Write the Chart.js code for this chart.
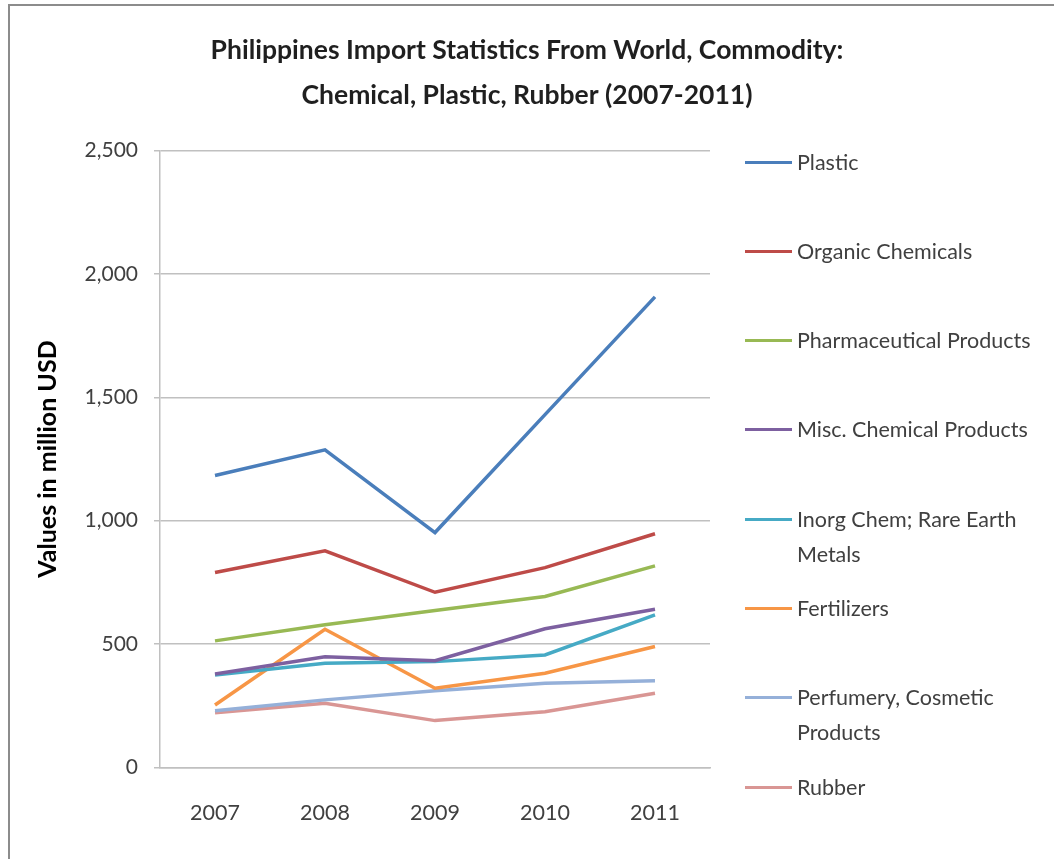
<!DOCTYPE html>
<html lang="en">
<head>
    <meta charset="UTF-8">
    <title>Philippines Import Statistics</title>
    <script src="https://cdn.jsdelivr.net/npm/chart.js"></script>
    <style>
        body {
            margin: 0;
            background: #fff;
            font-family: Lato, "Open Sans", sans-serif;
        }

        .frame {
            position: absolute;
            left: 8px;
            top: 4px;
            width: 1100px;
            height: 900px;
            border-left: 2px solid #8c8c8c;
            border-top: 2px solid #8c8c8c;
        }

        #chart {
            position: absolute;
            left: 0;
            top: 0;
        }

        .legend-item {
            position: absolute;
            left: 745px;
            display: flex;
            align-items: flex-start;
            font-size: 21.5px;
            line-height: 35px;
            color: #404040;
        }

        .legend-item .swatch {
            width: 47px;
            height: 3px;
            margin-top: 16px;
            margin-right: 5px;
            flex: none;
        }

        .legend-item .label {
            width: 250px;
        }
    </style>
</head>
<body>
    <div class="frame"></div>
    <canvas id="chart" width="1054" height="859"></canvas>
    <div id="legend"></div>
    <script>
        // data (million USD)
        const years = ['2007', '2008', '2009', '2010', '2011'];
        const seriesNames = ['Plastic', 'Organic Chemicals', 'Pharmaceutical Products', 'Misc. Chemical Products',
            'Inorg Chem; Rare Earth Metals', 'Fertilizers', 'Perfumery, Cosmetic Products', 'Rubber'];
        const plastic = [1183, 1287, 952, 1430, 1907];
        const organicChemicals = [790, 878, 710, 810, 947];
        const pharmaceutical = [513, 578, 636, 693, 817];
        const miscChemical = [379, 449, 433, 562, 641];
        const inorgChem = [375, 422, 429, 456, 618];
        const fertilizers = [253, 560, 321, 382, 490];
        const perfumery = [230, 274, 311, 341, 352];
        const rubber = [222, 260, 190, 226, 301];
        const yTicks = [0, 500, 1000, 1500, 2000, 2500];

        const seriesValues = [plastic, organicChemicals, pharmaceutical, miscChemical, inorgChem, fertilizers, perfumery, rubber];
        const colors = ['#4a7ebb', '#be4b48', '#98b954', '#7d60a0', '#46aac5', '#f79646', '#95b0d9', '#d99694'];

        const datasets = seriesNames.map((name, i) => ({
            label: name,
            data: seriesValues[i],
            borderColor: colors[i],
            backgroundColor: colors[i],
            borderWidth: 3.5,
            pointRadius: 0,
            tension: 0
        }));

        const ctx = document.getElementById('chart').getContext('2d');
        new Chart(ctx, {
            type: 'line',
            data: { labels: years, datasets: datasets },
            options: {
                responsive: false,
                animation: false,
                layout: { padding: 0 },
                plugins: {
                    legend: { display: false },
                    tooltip: { enabled: false },
                    title: {
                        display: true,
                        text: ['Philippines Import Statistics From World, Commodity:', 'Chemical, Plastic, Rubber (2007-2011)'],
                        color: '#1f1f1f',
                        font: { family: 'Lato', size: 26.5, weight: 'bold', lineHeight: 45 / 26.5 },
                        padding: { top: 27.5, bottom: 33 }
                    }
                },
                scales: {
                    x: {
                        offset: true,
                        grid: { display: false, drawTicks: false },
                        border: { display: true, color: '#c0c0c0', width: 1.5 },
                        ticks: { color: '#404040', padding: 33, font: { family: 'Lato', size: 21.5 } },
                        afterFit: (scale) => { scale.height = 91.5; }
                    },
                    y: {
                        min: 0,
                        max: 2500,
                        afterBuildTicks: (scale) => { scale.ticks = yTicks.map(v => ({ value: v })); },
                        grid: { color: '#c0c0c0', lineWidth: 1.5, drawTicks: true, tickLength: 6 },
                        border: { display: true, color: '#c0c0c0', width: 1.5 },
                        ticks: {
                            color: '#404040',
                            padding: 16,
                            font: { family: 'Lato', size: 21 },
                            callback: (v) => v.toLocaleString('en-US')
                        },
                        title: {
                            display: true,
                            text: 'Values in million USD',
                            color: '#000',
                            font: { family: 'Lato', size: 25, weight: 'bold', lineHeight: 1.2 },
                            padding: { top: 33, bottom: 0 }
                        },
                        afterFit: (scale) => { scale.width = 160; }
                    },
                    // empty axis that only keeps the right-hand room for the legend
                    legendRoom: {
                        type: 'linear',
                        position: 'right',
                        grid: { display: false },
                        border: { display: false },
                        ticks: { display: false },
                        afterFit: (scale) => { scale.width = 344; }
                    }
                }
            }
        });

        // legend on the right, one entry per series
        const legend = document.getElementById('legend');
        seriesNames.forEach((name, i) => {
            const item = document.createElement('div');
            item.className = 'legend-item';
            item.style.top = (162 + 89.3 * i - 17.5) + 'px';
            item.innerHTML = '<div class="swatch" style="background:' + colors[i] + '"></div><div class="label">' + name + '</div>';
            legend.appendChild(item);
        });
    </script>
</body>
</html>
